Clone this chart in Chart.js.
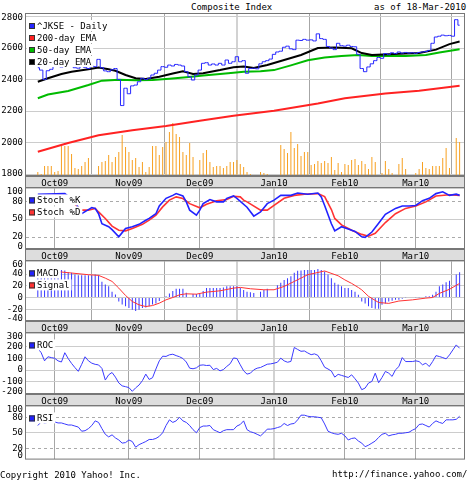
<!DOCTYPE html>
<html><head><meta charset="utf-8">
<script src="https://cdn.jsdelivr.net/npm/chart.js@4/dist/chart.umd.min.js"></script>
<style>
html,body{margin:0;padding:0;background:#fff;}
#wrap{position:relative;width:470px;height:480px;overflow:hidden;font-family:"DejaVu Sans Mono",monospace;font-size:9px;color:#000;background:#fff;}
canvas{position:absolute;left:0;}
.t{position:absolute;white-space:pre;line-height:10px;}
</style></head><body>
<div id="wrap">
<div class="t" style="left:191px;top:2px;">Composite Index</div>
<div class="t" style="left:374px;top:2px;">as of 18-Mar-2010</div>
<canvas id="c1" width="470" height="188" style="top:0px"></canvas>
<canvas id="c2" width="470" height="81" style="top:180px"></canvas>
<canvas id="c3" width="470" height="80" style="top:253px"></canvas>
<canvas id="c4" width="470" height="81" style="top:325px"></canvas>
<canvas id="c5" width="470" height="69" style="top:398px"></canvas>
<div class="t" style="left:0px;top:470px;">Copyright 2010 Yahoo! Inc.</div>
<div class="t" style="left:332px;top:469px;">http://finance.yahoo.com/</div>
</div>
<script>
// ---------- data (day index: 0 = 1-Oct-2009, one step per trading day) ----------
const firstDay = -5;
const monthIdx = [0, 22, 43, 65, 86, 107];
const monthLabels = ['Oct09', 'Nov09', 'Dec09', 'Jan10', 'Feb10', 'Mar10'];

const price = [2475,2460,2400,2456,2465, 2492,2490,2480,2485,2492, 2488,2475,2472,2488,2478,
 2470,2485,2482,2528,2475, 2455,2450,2462,2470,2400, 2235,2345,2310,2360,2365,
 2386,2408,2400,2408,2429, 2440,2460,2482,2478,2492, 2486,2496,2492,2486,2450,
 2418,2397,2429,2460,2503, 2507,2492,2499,2492,2503, 2492,2524,2503,2513,2545,
 2513,2520,2440,2470,2472, 2468,2500,2513,2520,2530, 2560,2575,2580,2605,2612,
 2595,2590,2650,2648,2655, 2650,2652,2645,2690,2660, 2655,2610,2600,2590,2630,
 2615,2612,2618,2610,2608, 2560,2470,2450,2480,2500, 2520,2540,2535,2565,2560,
 2570,2565,2575,2568,2572, 2568,2570,2566,2572,2575, 2578,2585,2630,2670,2675,
 2682,2678,2680,2675,2780, 2745];

const volume = [.4,.2,1.0,1.0,1.0, .4,.5,3.0,3.0,3.0, 2.2,.8,.7,1.0,1.4, 1.8,.1,null,1.0,1.4,
 1.5,2.1,1.4,1.9,2.4, 4.1,2.9,2.4,1.6,1.8, .9,1.4,.4,.9,3.0, 3.0,2.1,2.9,3.4,4.4,
 5.3,4.2,3.9,2.4,2.1, 3.3,1.9,null,1.6,2.3, 2.6,1.4,.9,1.0,1.0, .8,1.0,1.4,1.4,1.6,
 1.2,.9,.4,.2,null, null,.4,.3,.2,null, null,.1,3.1,2.7,2.3, 4.4,2.8,3.2,2.0,2.4,
 2.4,1.1,1.2,1.5,1.3, 1.5,1.3,1.9,.6,1.3, .4,1.2,1.1,1.6,1.7, 1.1,1.5,1.2,.7,1.9,
 1.4,null,.3,1.5,.7, .3,.1,1.2,1.8,.7, null,null,.3,.7,1.4, .8,.7,1.0,1.0,1.0,
 1.8,2.8,.8,null,3.8, 3.4];

const ema200Idx = [-5,4,13,23,33,43,53,65,78,86,98,108,120];
const ema200Val = [1942,1997,2046,2079,2106,2138,2170,2202,2248,2281,2312,2329,2360];
const ema50Idx = [-5,-2,4,10,14,19,24,29,34,39,44,49,53,56,61,65,70,75,80,85,90,94,99,104,110,114,120];
const ema50Val = [2281,2305,2328,2365,2393,2399,2395,2397,2405,2415,2425,2435,2443,2450,2452,2460,2490,2522,2540,2549,2556,2550,2549,2550,2556,2571,2592];
const ema20Idx = [-5,-2,2,5,10,13,16,18,21,24,27,31,35,38,41,44,49,53,56,59,63,68,73,78,83,88,91,94,99,104,108,113,117,120];
const ema20Val = [2386,2408,2435,2450,2465,2477,2465,2456,2429,2408,2403,2418,2439,2452,2436,2440,2460,2478,2483,2473,2492,2524,2556,2600,2603,2598,2568,2556,2560,2565,2568,2590,2625,2642];

const stochKIdx = [-5,3,6,8,10,11,12,13,14,16,17,19,20,21,23,25,27,28,30,31,33,35,36,38,39,40,42,43,44,46,48,50,51,53,54,57,59,61,63,65,67,70,72,75,78,79,80,82,83,85,87,89,91,92,94,96,98,101,103,105,107,109,111,113,115,117,119,120];
const stochKVal = [92,93,80,59,66,69.5,68,59,42,37,32,20,27,34,37,41,48,51,59,72,85,90,93,89,79,65,56.5,65,76,83,79,79,85,89,85,70,55,62,76,82,90,90,94,92,94,87.5,73,42,30,37,33,29,20,19,28,43,58,68,72,72,73,81,85,93,96,90,92,90];
const stochDIdx = [-5,3,8,10,12,13,15,17,19,21,23,26,28,30,32,34,36,38,40,43,45,48,51,53,55,56,57,61,63,65,68,71,74,78,80,82,83,85,88,91,93,95,98,101,104,107,110,113,117,120];
const stochDVal = [90,90,65,65,68,62,51,38,31,30,34,41,48,56.5,70.5,82,87.5,84.6,76,69,75,81,83,88.6,87.5,82,79,65,65,73,85,90,92,93,88,66,51,40,31,24,21,26,44,59,68,72,79,89,91,90];

const macd = [36,38,40,42,43, 44,45,47,46,43, 42,39,38,38,38, 38,38,39,38,27, 22,19,10,5,-7,
 -12,-15,-18,-21,-23, -21,-18,-17,-15,-12, -10,-6,-1,2,7, 11,15,15,15,8, null,6,6,6,11,
 16,16,16,16,16, 17,19,19,19,19, 16,13,10,9,7.5, null,10,13,15,null, null,21,25,30,33,
 36,42,45.6,46,47, 47,47,47,48.5,47, 44.5,39,33,25,22, 19,16,16,13,10, 4.6,-7,-10,-15,-18,
 -19,-19,-12.5,-10,-7, -5.6,-4,-4,-2,0.5, null,null,0.3,0.5,0.8, 2,2,4.6,10,19,
 22,26,28.5,null,39, 43];
const signalIdx = [-5,2,5,10,13,15,17,19,21,23,25,27,29,31,33,35,37,39,42,45,49,53,55,58,62,65,68,71,75,80,84,86,88,90,91,93,96,99,102,106,110,112,114,117,120];
const signalVal = [45,43.4,41.7,38.8,37.7,33,27.4,16,3.5,-6.8,-12.5,-15.4,-13.7,-9.6,-3.9,0,4.6,6.3,5.7,9.2,11.4,16,17.2,14.9,13.2,13.2,18.9,27.4,38.8,45.2,37,30,24,17,13,2,-8.5,-10,-6,-4,-1,0,7,14,24];

const roc = [188,150,80,115,108, 102,80,70,150,100, 58,22,-10,50,115, 80,60,50,45,15,
 -85,-40,-20,-60,-110, -135,-142,-150,-182,-152, -128,-90,-34,-80,-65, 10,80,120,118,132,
 137,125,115,100,70, 17,12,20,42,45, 40,42,5,15,-6, 5,32,55,105,100,
 46,-6,-34,-26,3, 17,23,37,51,54, 60,68,103,80,68, 75,195,178,162,165,
 148,133,140,127,80, 25,10,-8,-60,-36, -45,-54,-63,-40,-74, -111,-168,-154,-111,-97,
 -26,-108,-63,-11,-26, -54,3,31,108,74, 74,74,80,74,46, 60,31,74,125,117,
 108,97,131,174,217, 188];

const rsi = [64,71,69,70,70, 71,69,69,67,65, 65,63,61,53,54, 58,64,73,70,58,
 47,42,46,40,36, 30,31,36,33,22, 27,30,33,37,37, 39,43,50,64,75,
 70,73,80,73,70, 64,56,50,60,63, 63,64,56,53,50, 54,56,56,56,63,
 66,73,56,52,50, 47,44,50,57,57, 58,60,62,68,64, 67,68,75,84,84,
 82,81,81,80,79, 67,53,50,48,47, 49,44,36,39,40, 34,30,23,26,30,
 34,41,47,49,44, 46,47,49,49,50, 51,55,58,66,67, 64,61,68,73,70,
 68,75,75,75,76, 82];

const priceTicks = [1800, 2000, 2200, 2400, 2600, 2800];
const stochTicks = [0, 20, 50, 80, 100];
const macdTicks = [-40, -20, 0, 20, 40, 60];
const rocTicks = [-200, -100, 0, 100, 200, 300];
const rsiTicks = [0, 20, 50, 80, 100];

// ---------- helpers ----------
const daily = arr => arr.map((v, k) => ({x: firstDay + k, y: v}));
const pts = (xs, ys) => xs.map((x, k) => ({x, y: ys[k]}));
const FONTFAM = '"DejaVu Sans Mono", monospace';
const FONT = {family: FONTFAM, size: 9};
Chart.defaults.font.family = FONTFAM;
Chart.defaults.font.size = 9;
Chart.defaults.color = '#000';
const XMIN = -8.5, XMAX = 121.3;

function xScale(band) {
  return {
    type: 'linear', min: XMIN, max: XMAX, offset: false,
    afterBuildTicks: s => { s.ticks = monthIdx.map(v => ({value: v})); },
    afterFit: s => { s.height = band ? 12 : 0; },
    backgroundColor: band ? '#dddddd' : 'rgba(0,0,0,0)',
    border: {display: false},
    grid: {drawTicks: false,
      color: c => (c.tick && c.tick.value === 65) ? '#d2d2d2' : '#a6a6a6',
      lineWidth: c => (c.tick && c.tick.value === 65) ? 2 : 1},
    ticks: {display: band, font: FONT, color: '#000', padding: 2, maxRotation: 0, autoSkip: false,
      callback: (v, i) => monthLabels[i]}
  };
}
function yScale(min, max, ticks, gridColor) {
  return {
    min, max,
    afterBuildTicks: s => { s.ticks = ticks.map(v => ({value: v})); },
    afterFit: s => { s.width = 26; },
    border: {display: false},
    grid: {drawTicks: false, color: gridColor, lineWidth: 1},
    ticks: {font: FONT, color: '#000', padding: 3, autoSkip: false, callback: v => String(v)}
  };
}
const frame = {id: 'frame', afterDraw(chart) {
  const a = chart.chartArea, ctx = chart.ctx, xs = chart.scales.x;
  ctx.save(); ctx.strokeStyle = '#777'; ctx.lineWidth = 1;
  ctx.strokeRect(a.left - 0.5, a.top - 0.5, a.right - a.left + 1, a.bottom - a.top + 1);
  if (xs.height > 0) ctx.strokeRect(a.left - 0.5, xs.top - 0.5, a.right - a.left + 1, xs.height);
  ctx.restore();
}};
const clampLabels = {id: 'clampLabels', beforeDraw(chart) {
  const s = chart.scales.y, a = chart.chartArea;
  const items = s.getLabelItems(a);
  for (const it of items) {
    const t = it.options.translation;
    t[1] = Math.min(Math.max(t[1], a.top + 3.5), a.bottom - 2.5);
  }
}};
function dashed(values) {
  return {id: 'dashed', beforeDatasetsDraw(chart) {
    const a = chart.chartArea, ctx = chart.ctx, y = chart.scales.y;
    ctx.save(); ctx.strokeStyle = '#aaa'; ctx.lineWidth = 1; ctx.setLineDash([3, 3]);
    for (const v of values) {
      const p = Math.round(y.getPixelForValue(v)) + 0.5;
      ctx.beginPath(); ctx.moveTo(a.left, p); ctx.lineTo(a.right, p); ctx.stroke();
    }
    ctx.restore();
  }};
}
function legend(items) {
  return {id: 'lg', afterDatasetsDraw(chart) {
    const a = chart.chartArea, ctx = chart.ctx;
    ctx.save(); ctx.font = '9px ' + FONTFAM; ctx.textBaseline = 'middle';
    items.forEach((it, k) => {
      const cy = a.top + 12 + k * 12;
      const w = ctx.measureText(it.label).width;
      ctx.fillStyle = '#fff'; ctx.fillRect(a.left + 1, cy - 6, w + 12, 11);
      ctx.fillStyle = it.color; ctx.fillRect(a.left + 3, cy - 3, 6, 6);
      ctx.strokeStyle = '#333'; ctx.strokeRect(a.left + 3.5, cy - 2.5, 5, 5);
      ctx.fillStyle = '#000'; ctx.fillText(it.label, a.left + 11, cy + 0.5);
    });
    ctx.restore();
  }};
}
function base(padTop, padBottom) {
  return {responsive: false, maintainAspectRatio: false, animation: false, devicePixelRatio: 1, events: [],
    layout: {padding: {top: padTop, right: 6, left: 0, bottom: padBottom}},
    plugins: {legend: {display: false}, tooltip: {enabled: false}},
    elements: {point: {radius: 0}, line: {tension: 0}}};
}
const line = (data, color, width, extra) => Object.assign({type: 'line', data, borderColor: color, borderWidth: width, pointRadius: 0, fill: false}, extra || {});

// ---------- panel 1: price, EMAs, volume ----------
new Chart(document.getElementById('c1'), {
  type: 'line',
  data: {datasets: [
    {type: 'bar', data: daily(volume), yAxisID: 'yv', backgroundColor: '#f7a020', barThickness: 1, inflateAmount: 0, order: 10},
    line(pts(ema200Idx, ema200Val), '#f22', 2, {order: 5}),
    line(pts(ema50Idx, ema50Val), '#0b0', 2, {order: 4}),
    line(pts(ema20Idx, ema20Val), '#000', 2, {order: 3}),
    line(daily(price), '#2626ff', 1, {stepped: 'middle', order: 1})
  ]},
  options: Object.assign(base(14, 0), {scales: {
    x: xScale(true),
    y: yScale(1788, 2816, priceTicks, '#cccccc'),
    yv: {display: false, min: 0, max: 16.2}
  }}),
  plugins: [frame, clampLabels, legend([
    {label: '^JKSE - Daily', color: '#2626ff'}, {label: '200-day EMA', color: '#f22'},
    {label: '50-day EMA', color: '#0b0'}, {label: '20-day EMA', color: '#000'}])]
});

// ---------- panel 2: stochastic ----------
new Chart(document.getElementById('c2'), {
  type: 'line',
  data: {datasets: [
    line(pts(stochDIdx, stochDVal), '#f33', 1.6, {order: 2}),
    line(pts(stochKIdx, stochKVal), '#22f', 1.6, {order: 1})
  ]},
  options: Object.assign(base(8, 0), {scales: {
    x: xScale(true),
    y: yScale(-0.7, 101.8, stochTicks, c => (c.tick && c.tick.value === 50) ? '#cccccc' : 'rgba(0,0,0,0)')
  }}),
  plugins: [dashed([20, 80]), frame, clampLabels, legend([
    {label: 'Stoch %K', color: '#22f'}, {label: 'Stoch %D', color: '#f33'}])]
});

// ---------- panel 3: MACD ----------
new Chart(document.getElementById('c3'), {
  type: 'line',
  data: {datasets: [
    {type: 'bar', data: daily(macd), backgroundColor: '#3535ff', barThickness: 1, inflateAmount: 0, order: 3},
    line(pts(signalIdx, signalVal), '#f33', 1, {order: 1})
  ]},
  options: Object.assign(base(8, 0), {scales: {
    x: xScale(true),
    y: yScale(-40, 61.5, macdTicks, c => (c.tick && c.tick.value > -40 && c.tick.value < 60) ? '#cccccc' : 'rgba(0,0,0,0)')
  }}),
  plugins: [frame, clampLabels, legend([
    {label: 'MACD', color: '#22f'}, {label: 'Signal', color: '#f33'}])]
});

// ---------- panel 4: ROC ----------
new Chart(document.getElementById('c4'), {
  type: 'line',
  data: {datasets: [ line(daily(roc), '#3a3aff', 1) ]},
  options: Object.assign(base(8, 0), {scales: {
    x: xScale(true),
    y: yScale(-205, 316, rocTicks, c => (c.tick && c.tick.value > -200 && c.tick.value < 300) ? '#cccccc' : 'rgba(0,0,0,0)')
  }}),
  plugins: [frame, clampLabels, legend([{label: 'ROC', color: '#22f'}])]
});

// ---------- panel 5: RSI ----------
new Chart(document.getElementById('c5'), {
  type: 'line',
  data: {datasets: [ line(daily(rsi), '#3a3aff', 1) ]},
  options: Object.assign(base(8, 3), {scales: {
    x: xScale(false),
    y: yScale(0, 101, rsiTicks, c => (c.tick && c.tick.value === 50) ? '#cccccc' : 'rgba(0,0,0,0)')
  }}),
  plugins: [dashed([20, 80]), frame, clampLabels, legend([{label: 'RSI', color: '#22f'}])]
});
</script>
</body></html>
